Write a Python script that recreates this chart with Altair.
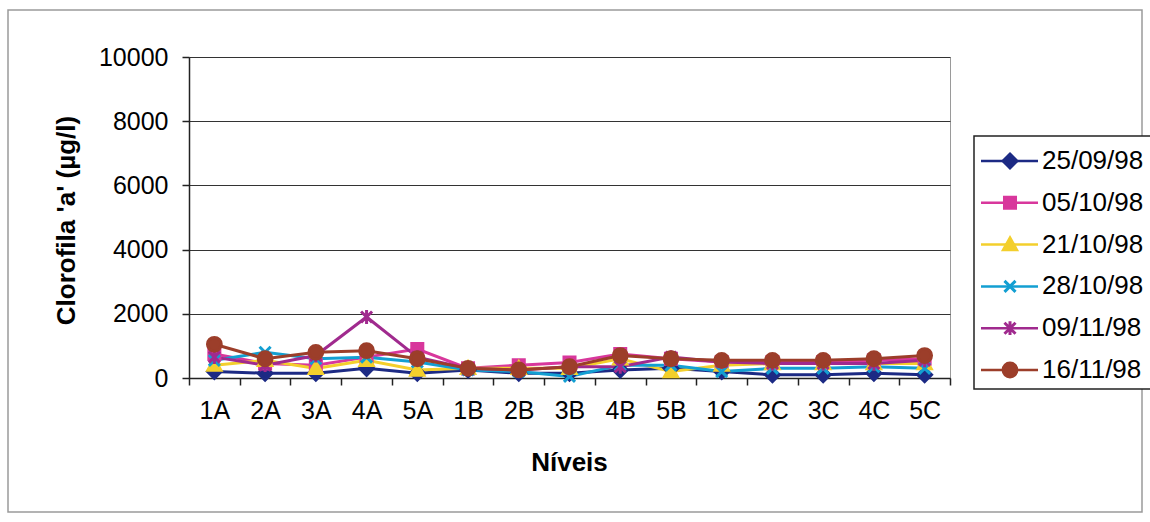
import altair as alt
import pandas as pd

# Sampling levels along the x axis
niveis = ["1A", "2A", "3A", "4A", "5A", "1B", "2B", "3B", "4B", "5B",
          "1C", "2C", "3C", "4C", "5C"]

# Sampling dates (series)
datas = ["25/09/98", "05/10/98", "21/10/98", "28/10/98", "09/11/98", "16/11/98"]

# Chlorophyll 'a' (µg/l) per level, one list per date
clor_250998 = [200, 150, 150, 300, 150, 250, 150, 150, 250, 300, 200, 100, 100, 150, 100]
clor_051098 = [750, 450, 400, 650, 900, 300, 400, 480, 750, 600, 500, 500, 500, 550, 600]
clor_211098 = [400, 550, 300, 550, 250, 300, 300, 300, 600, 200, 400, 450, 450, 450, 450]
clor_281098 = [550, 800, 600, 650, 500, 250, 200, 50, 400, 400, 200, 300, 300, 350, 300]
clor_091198 = [650, 400, 700, 1900, 650, 300, 250, 350, 350, 650, 500, 450, 450, 450, 550]
clor_161198 = [1050, 600, 800, 850, 600, 300, 250, 350, 700, 600, 550, 550, 550, 600, 700]

series_values = [clor_250998, clor_051098, clor_211098, clor_281098, clor_091198, clor_161198]

cores = ["#1c2a84", "#d8379c", "#f3cf2c", "#139fd2", "#a02a8e", "#9c3e2a"]

# Marker shapes: diamond, square, triangle, x, asterisk, circle
formas = [
    "M0,-1L1,0L0,1L-1,0Z",
    "M-0.8,-0.8H0.8V0.8H-0.8Z",
    "M0,-0.95L0.95,0.75H-0.95Z",
    "M-0.8,-0.8L0.8,0.8M-0.8,0.8L0.8,-0.8",
    "M-0.8,-0.8L0.8,0.8M-0.8,0.8L0.8,-0.8M0,-1V1",
    "M1,0A1,1 0 1,1 -1,0A1,1 0 1,1 1,0Z",
]

rows = []
for d, vals in zip(datas, series_values):
    for n, v in zip(niveis, vals):
        rows.append({"Nivel": n, "Data": d, "Valor": v})
df = pd.DataFrame(rows)

FONT = "Liberation Sans"
MARKER = 190

color_scale = alt.Scale(domain=datas, range=cores)
shape_scale = alt.Scale(domain=datas, range=formas)

x_enc = alt.X(
    "Nivel:N",
    sort=niveis,
    bandPosition=0.5,
    scale=alt.Scale(type="band", paddingInner=0, paddingOuter=0),
    axis=alt.Axis(
        title="Níveis", labelAngle=0, tickBand="extent", tickSize=7,
        labelPadding=13, titleFontWeight="bold", titleX=380, titleY=84,
        titleBaseline="middle", grid=False,
    ),
)
y_enc = alt.Y(
    "Valor:Q",
    scale=alt.Scale(domain=[0, 10000], nice=False),
    axis=alt.Axis(
        title="Clorofila  'a' (µg/l)", values=[0, 2000, 4000, 6000, 8000, 10000],
        format="d", tickSize=7, labelPadding=14, titleFontWeight="bold",
        titleX=-123, titleY=163, titleBaseline="middle", grid=True,
    ),
)

base = alt.Chart(df)

linhas = base.mark_line(strokeWidth=3).encode(
    x=x_enc,
    y=y_enc,
    color=alt.Color("Data:N", scale=color_scale, legend=None),
    detail="Data:N",
)

pontos = base.mark_point(filled=True, size=MARKER, strokeWidth=3, opacity=1).encode(
    x=x_enc,
    y=y_enc,
    color=alt.Color("Data:N", scale=color_scale, legend=None),
    shape=alt.Shape("Data:N", scale=shape_scale, legend=None),
    stroke=alt.Stroke("Data:N", scale=color_scale, legend=None),
)

grafico = alt.layer(linhas, pontos)

# Legend drawn as its own layer: a box, a line stub, a marker and a label per date
leg_data = alt.Data(values=[{"Data": d} for d in datas])
leg_y = alt.Y("Data:N", sort=datas, axis=None,
              scale=alt.Scale(type="point", domain=datas, range=[104, 313], padding=0))

leg_caixa = alt.Chart(alt.Data(values=[{}])).mark_rect(
    fill="white", stroke="#222", strokeWidth=1.5
).encode(x=alt.value(785), x2=alt.value(962), y=alt.value(79), y2=alt.value(332))

leg_traco = alt.Chart(leg_data).mark_rule(strokeWidth=2.5).encode(
    x=alt.value(792), x2=alt.value(849), y=leg_y,
    color=alt.Color("Data:N", scale=color_scale, legend=None),
)
leg_marca = alt.Chart(leg_data).mark_point(filled=True, size=MARKER, strokeWidth=3, opacity=1).encode(
    x=alt.value(821), y=leg_y,
    color=alt.Color("Data:N", scale=color_scale, legend=None),
    shape=alt.Shape("Data:N", scale=shape_scale, legend=None),
    stroke=alt.Stroke("Data:N", scale=color_scale, legend=None),
)
leg_texto = alt.Chart(leg_data).mark_text(
    align="left", baseline="middle", font=FONT, fontSize=26, color="black"
).encode(x=alt.value(853), y=leg_y, text="Data:N")

legenda = alt.layer(leg_caixa, leg_traco, leg_marca, leg_texto)

# Outer frame around the whole figure
moldura = alt.Chart(alt.Data(values=[{}])).mark_rect(
    fill=None, stroke="#9a9a9a", strokeWidth=1.5
).encode(
    x=alt.value(-181), x2=alt.value(953), y=alt.value(-47), y2=alt.value(455)
)

chart = (
    alt.layer(moldura, grafico, legenda)
    .resolve_scale(y="independent")
    .properties(
        width=761,
        height=321,
        padding={"left": 189, "top": 57, "right": 200, "bottom": 144},
        autosize=alt.AutoSizeParams(type="none"),
        background="white",
    )
    .configure_view(stroke="#9a9a9a", strokeWidth=1)
    .configure_axis(
        labelFont=FONT,
        labelFontSize=25,
        labelColor="black",
        titleFont=FONT,
        titleFontSize=26,
        titleColor="black",
        domainColor="#222",
        domainWidth=1.5,
        tickColor="#222",
        tickWidth=1.5,
        gridColor="#333",
        gridWidth=1,
    )
)

chart.save("out.html", embed_options={"renderer": "svg", "actions": False})
